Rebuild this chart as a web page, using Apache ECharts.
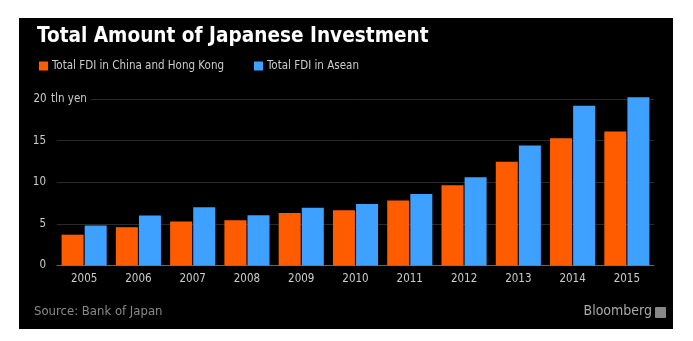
<!DOCTYPE html>
<html>
<head>
<meta charset="utf-8">
<script src="https://cdn.jsdelivr.net/npm/echarts@6/dist/echarts.min.js"></script>
<style>
  html, body { margin: 0; padding: 0; background: #fff; }
  #panel { position: absolute; left: 19px; top: 18px; width: 654px; height: 311px; background: #000; }
  #chart { position: absolute; left: 0; top: 0; width: 693px; height: 341px; }
</style>
</head>
<body>
<div id="panel"></div>
<div id="chart"></div>
<script>
const years = ['2005','2006','2007','2008','2009','2010','2011','2012','2013','2014','2015'];
const chinaHK = [3.7, 4.6, 5.3, 5.45, 6.3, 6.65, 7.8, 9.65, 12.45, 15.3, 16.1];
const asean = [4.8, 6.0, 7.0, 6.05, 6.95, 7.4, 8.6, 10.6, 14.4, 19.2, 20.2];
const seriesNames = ['Total FDI in China and Hong Kong', 'Total FDI in Asean'];
const yTicks = [0, 5, 10, 15, 20];
const unitLabel = 'tln yen';

const FONT = "'DejaVu Sans Condensed', 'DejaVu Sans', sans-serif";
const chart = echarts.init(document.getElementById('chart'), null, { renderer: 'canvas' });
chart.setOption({
  backgroundColor: 'transparent',
  animation: false,
  title: {
    text: 'Total Amount of Japanese Investment',
    left: 32, top: 21,
    textStyle: { color: '#fff', fontFamily: FONT, fontWeight: 'bold', fontSize: 20.6 }
  },
  legend: [
    { data: [seriesNames[0]], left: 34, top: 55, itemWidth: 9, itemHeight: 9, icon: 'rect', itemGap: 5,
      textStyle: { color: '#ccc', fontFamily: FONT, fontSize: 11.5, padding: [0,0,0,-1] } },
    { data: [seriesNames[1]], left: 249, top: 55, itemWidth: 9, itemHeight: 9, icon: 'rect',
      textStyle: { color: '#ccc', fontFamily: FONT, fontSize: 11.5, padding: [0,0,0,-1] } }
  ],
  grid: { left: 57, right: 39, top: 99, bottom: 75.5, containLabel: false },
  xAxis: {
    type: 'category', data: years,
    axisLine: { show: true, lineStyle: { color: '#666', width: 1 } },
    axisTick: { show: false },
    axisLabel: { color: '#ccc', fontFamily: FONT, fontSize: 11.5, margin: 8 }
  },
  yAxis: {
    type: 'value', min: 0, max: 20, interval: 5,
    axisLine: { show: false }, axisTick: { show: false },
    splitLine: { show: true, lineStyle: { color: '#2a2a2a', width: 1 } },
    axisLabel: {
      align: 'left', margin: 23, color: '#ccc', fontFamily: FONT, fontSize: 11.5,
      formatter: v => yTicks.includes(v) ? (v === 20 ? '{a|' + v + '}{b|' + unitLabel + '}' : '{a|' + v + '}') : '',
      rich: {
        a: { width: 12, align: 'right', color: '#ccc', fontFamily: FONT, fontSize: 11.5 },
        b: { color: '#ccc', fontFamily: FONT, fontSize: 11.5, backgroundColor: '#000', padding: [2, 4, 2, 5] }
      }
    }
  },
  series: [
    { name: seriesNames[0], type: 'bar', data: chinaHK, barWidth: 22, barGap: '5%', clip: false,
      itemStyle: { color: '#FF5C00' } },
    { name: seriesNames[1], type: 'bar', data: asean, barWidth: 22, barGap: '5%', clip: false,
      itemStyle: { color: '#3FA1FF' } }
  ],
  graphic: [
    { type: 'text', left: 34, top: 305, style: { text: 'Source: Bank of Japan', fill: '#8a8a8a', font: "13px 'DejaVu Sans Condensed', 'DejaVu Sans', sans-serif" } },
    { type: 'text', right: 41, top: 304, style: { text: 'Bloomberg', fill: '#aaa', font: "14px 'DejaVu Sans Condensed', 'DejaVu Sans', sans-serif" } },
    { type: 'rect', left: 655, top: 307, shape: { width: 11, height: 11, r: 1 }, style: { fill: '#888' } }
  ]
});
</script>
</body>
</html>
